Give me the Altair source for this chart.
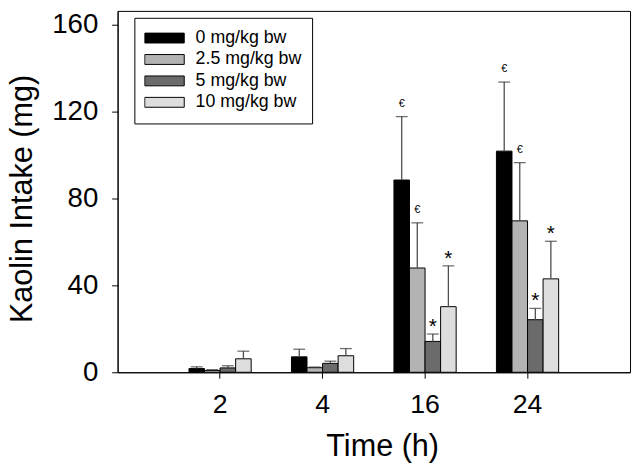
import altair as alt
import pandas as pd

times = ["2", "4", "16", "24"]
doses = ["0 mg/kg bw", "2.5 mg/kg bw", "5 mg/kg bw", "10 mg/kg bw"]
colors = ["#000000", "#b3b3b3", "#6b6b6b", "#dedede"]

mean_0 = [1.7, 7.1, 88.5, 101.8]
sem_0 = [0.8, 3.5, 29.2, 31.8]
mean_25 = [0.8, 2.1, 48.0, 69.7]
sem_25 = [0.4, 0.3, 20.8, 26.8]
mean_5 = [2.0, 4.1, 14.2, 24.2]
sem_5 = [1.0, 1.0, 3.4, 5.2]
mean_10 = [6.2, 7.6, 30.2, 43.0]
sem_10 = [3.5, 3.3, 18.8, 17.3]
sig_0 = ["", "", "€", "€"]
sig_25 = ["", "", "€", "€"]
sig_5 = ["", "", "*", "*"]
sig_10 = ["", "", "*", "*"]

rows = []
for dose, means, sems, sigs in zip(
    doses,
    [mean_0, mean_25, mean_5, mean_10],
    [sem_0, sem_25, sem_5, sem_10],
    [sig_0, sig_25, sig_5, sig_10],
):
    for t, m, s, g in zip(times, means, sems, sigs):
        rows.append({"time": t, "dose": dose, "mean": m, "upper": m + s, "sig": g})
df = pd.DataFrame(rows)

FONT = "Liberation Sans"

x_enc = alt.X(
    "time:N",
    sort=times,
    scale=alt.Scale(paddingInner=0.393, paddingOuter=0.6965),
    axis=alt.Axis(title="Time (h)", labelAngle=0),
)
xo_enc = alt.XOffset("dose:N", sort=doses,
                     scale=alt.Scale(paddingInner=0, paddingOuter=0))
y_scale = alt.Scale(domain=[0, 166.36], nice=False)

base = alt.Chart(df)

bars = base.mark_bar(stroke="black", strokeWidth=1).encode(
    x=x_enc,
    xOffset=xo_enc,
    y=alt.Y("mean:Q", scale=y_scale,
            axis=alt.Axis(values=[0, 40, 80, 120, 160], title="Kaolin Intake (mg)",
                          grid=False)),
    color=alt.Color(
        "dose:N", sort=doses,
        scale=alt.Scale(domain=doses, range=colors),
        legend=alt.Legend(
            orient="none", legendX=17, legendY=7, title=None,
            strokeColor="black", fillColor="white", padding=10,
            symbolType="M-1,-0.25H1V0.25H-1Z", symbolSize=1600,
            symbolStrokeColor="black", symbolStrokeWidth=1, symbolOpacity=1,
            clipHeight=21, rowPadding=0.7,
            labelFontSize=18, labelOffset=11, labelFont=FONT, labelColor="black",
        ),
    ),
)

rules = base.mark_rule(color="#4d4d4d", strokeWidth=1.3).encode(
    x=x_enc, xOffset=xo_enc,
    y=alt.Y("mean:Q", scale=y_scale), y2="upper:Q",
)

caps = base.mark_tick(color="#333333", thickness=1.3, size=12).encode(
    x=x_enc, xOffset=xo_enc,
    y=alt.Y("upper:Q", scale=y_scale),
)

euro = base.transform_filter(alt.datum.sig == "€").mark_text(
    font=FONT, fontSize=11, baseline="alphabetic", dy=-10, color="black"
).encode(x=x_enc, xOffset=xo_enc, y=alt.Y("upper:Q", scale=y_scale), text="sig:N")

star = base.transform_filter(alt.datum.sig == "*").mark_text(
    font=FONT, fontSize=21, baseline="alphabetic", dy=-1, color="black"
).encode(x=x_enc, xOffset=xo_enc, y=alt.Y("upper:Q", scale=y_scale), text="sig:N")

chart = (
    alt.layer(bars, rules, caps, euro, star)
    .properties(
        width=519, height=366,
        autosize=alt.AutoSizeParams(type="none"),
        padding={"left": 111, "top": 0, "right": 2, "bottom": 92},
    )
    .configure_view(stroke="black", strokeWidth=1)
    .configure_axis(
        domainColor="black", tickColor="black", labelColor="black", titleColor="black",
        labelFont=FONT, titleFont=FONT, labelFontSize=28, titleFontSize=31,
        titleFontWeight="normal", domainWidth=1, tickWidth=1,
    )
    .configure_axisY(
        tickSize=6, labelPadding=14,
        titleX=-87, titleY=190, titleBaseline="alphabetic", titleAngle=270,
    )
    .configure_axisX(
        tickSize=6, labelPadding=35, labelBaseline="alphabetic", labelFontSize=27,
        titleX=268, titleY=84, titleBaseline="alphabetic",
    )
)

chart.save("out.html", embed_options={"renderer": "svg", "actions": False})
